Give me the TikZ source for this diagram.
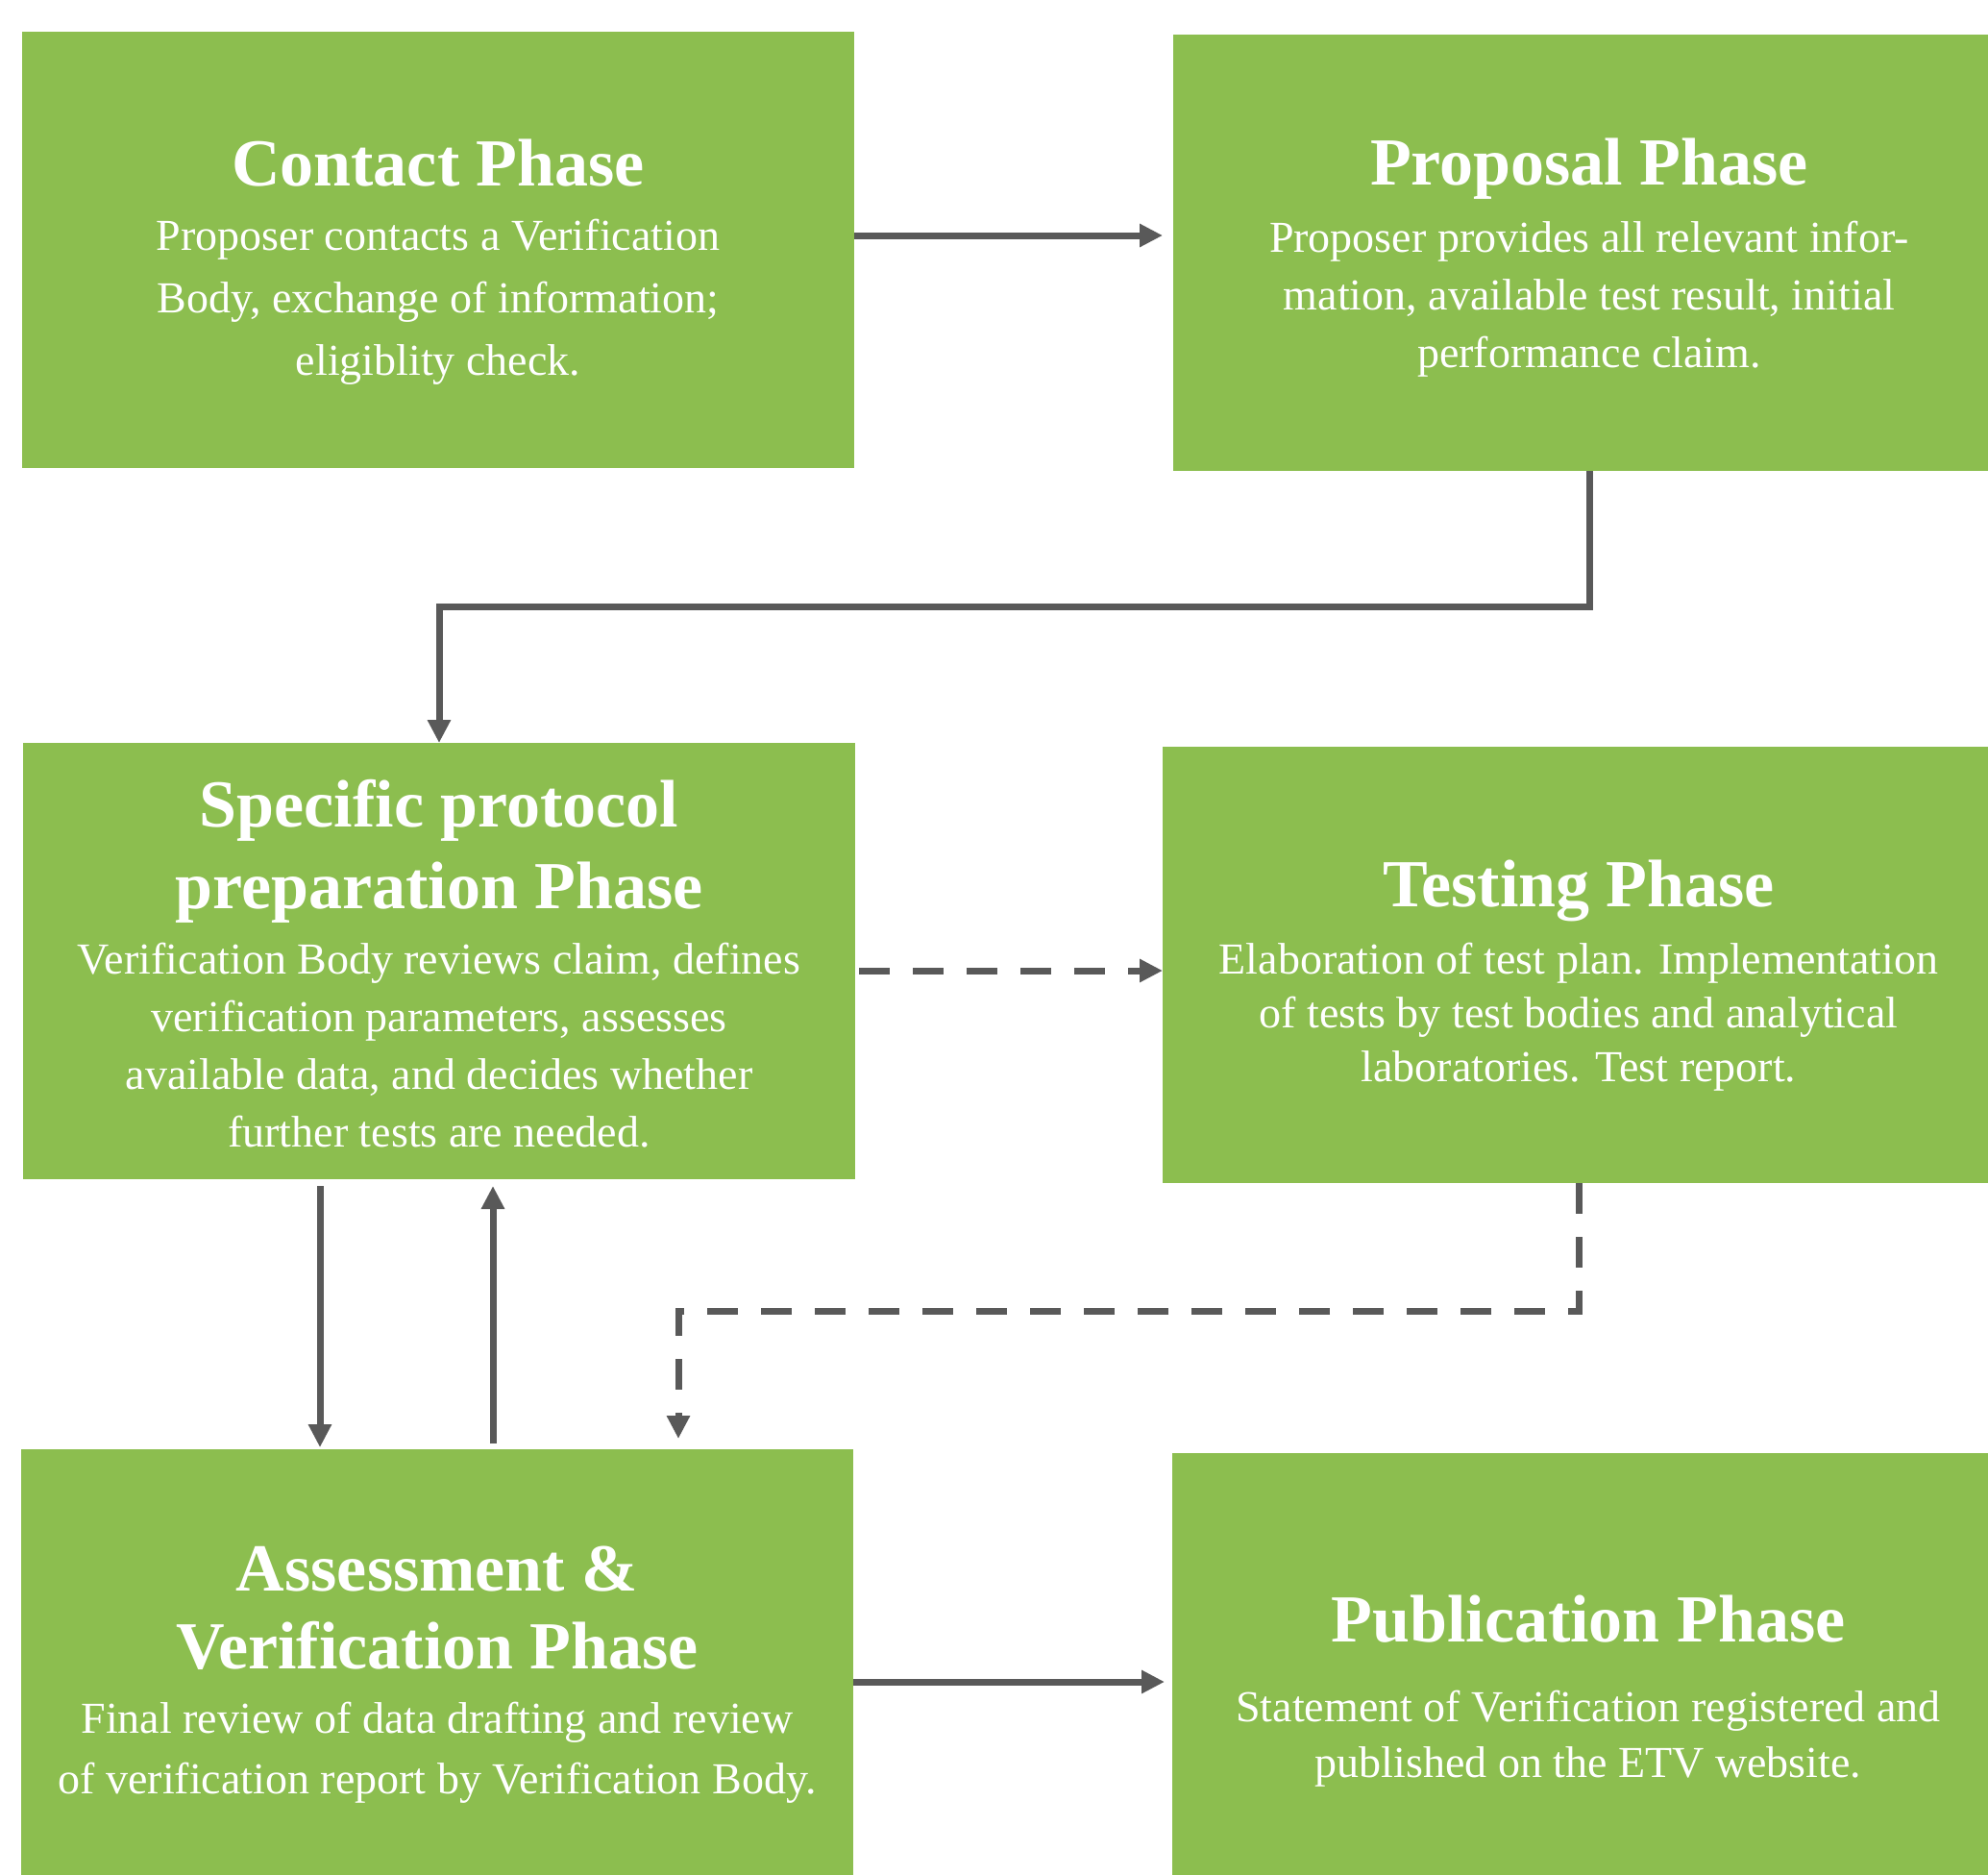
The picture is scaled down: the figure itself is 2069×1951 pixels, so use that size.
\documentclass[tikz,border=0pt]{standalone}
\usepackage{fontspec}
\setmainfont{Liberation Serif}
\usetikzlibrary{arrows.meta}
\definecolor{boxgreen}{HTML}{8CBE4F}
\definecolor{arrowgray}{HTML}{595959}
\newcommand{\boxtext}[3]{\parbox[t]{480pt}{\centering\fontsize{#1}{#2}\selectfont #3}}
\begin{document}
\begin{tikzpicture}[x=0.5pt,y=-0.5pt,
  phasebox/.style={fill=boxgreen, minimum width=433pt, minimum height=227pt, inner sep=0pt, outer sep=0pt},
  ttl/.style={text=white, anchor=base, inner sep=0pt, font=\bfseries},
  bdy/.style={text=white, anchor=base, inner sep=0pt},
  conn/.style={draw=arrowgray, line width=3.5pt, -{Triangle[length=12pt,width=11.5pt]}},
  dconn/.style={conn, dash pattern=on 16pt off 12pt},
]
\useasboundingbox (0,0) rectangle (2069,1951);
\clip (0,0) rectangle (2069,1951);
\fill[white] (0,0) rectangle (2069,1951);

% boxes
\node[phasebox] (contact) at (456,260) {};
\node[phasebox] (proposal) at (1654,263) {};
\node[phasebox] (specific) at (457,1000) {};
\node[phasebox] (testing) at (1643,1004) {};
\node[phasebox] (assess) at (455,1735) {};
\node[phasebox] (publication) at (1653,1739) {};

% texts
\node[ttl] (contactT) at (456,193) {\boxtext{35pt}{42.5pt}{Contact Phase}};
\node[bdy] (contactB) at (456,260) {\boxtext{23pt}{32.5pt}{Proposer contacts a Verification\\Body, exchange of information;\\eligiblity check.}};

\node[ttl] (proposalT) at (1654,192) {\boxtext{35pt}{42.5pt}{Proposal Phase}};
\node[bdy] (proposalB) at (1654,262) {\boxtext{23pt}{30pt}{Proposer provides all relevant infor-\\mation, available test result, initial\\performance claim.}};

\node[ttl] (specificT) at (457,860) {\boxtext{35pt}{42.5pt}{Specific protocol\\preparation Phase}};
\node[bdy] (specificB) at (457,1013) {\boxtext{23pt}{30pt}{Verification Body reviews claim, defines\\verification parameters, assesses\\available data, and decides whether\\further tests are needed.}};

\node[ttl] (testingT) at (1643,943) {\boxtext{35pt}{42.5pt}{Testing Phase}};
\node[bdy] (testingB) at (1643,1013) {\boxtext{23pt}{28pt}{Elaboration of test plan. Implementation\\of tests by test bodies and analytical\\laboratories. Test report.}};

\node[ttl] (assessT) at (455,1655) {\boxtext{35pt}{40.5pt}{Assessment \&\\Verification Phase}};
\node[bdy] (assessB) at (455,1803) {\boxtext{23pt}{31.5pt}{Final review of data drafting and review\\of verification report by Verification Body.}};

\node[ttl] (publicationT) at (1653,1708) {\boxtext{35pt}{42.5pt}{Publication Phase}};
\node[bdy] (publicationB) at (1653,1791) {\boxtext{23pt}{29pt}{Statement of Verification registered and\\published on the ETV website.}};

% connectors
\draw[conn, shorten >=5.5pt] (contact.east |- 0,245) -- (proposal.west |- 0,245);
\draw[conn] (proposal.south) -- (proposal.south |- 0,631) -- (specific.north |- 0,631) -- (specific.north);
\draw[dconn, shorten <=2pt] (specific.east |- 0,1010) -- (testing.west |- 0,1010);
\draw[dconn, shorten >=5.5pt] (testing.south) -- (testing.south |- 0,1364) -- (706,1364) -- (assess.north -| 706,0);
\draw[conn, shorten <=3.5pt, shorten >=1pt] (specific.south -| 333,0) -- (assess.north -| 333,0);
\draw[conn, shorten <=3pt, shorten >=3.5pt] (assess.north -| 513,0) -- (specific.south -| 513,0);
\draw[conn, shorten >=4pt] (assess.east |- 0,1750) -- (publication.west |- 0,1750);
\end{tikzpicture}
\end{document}
